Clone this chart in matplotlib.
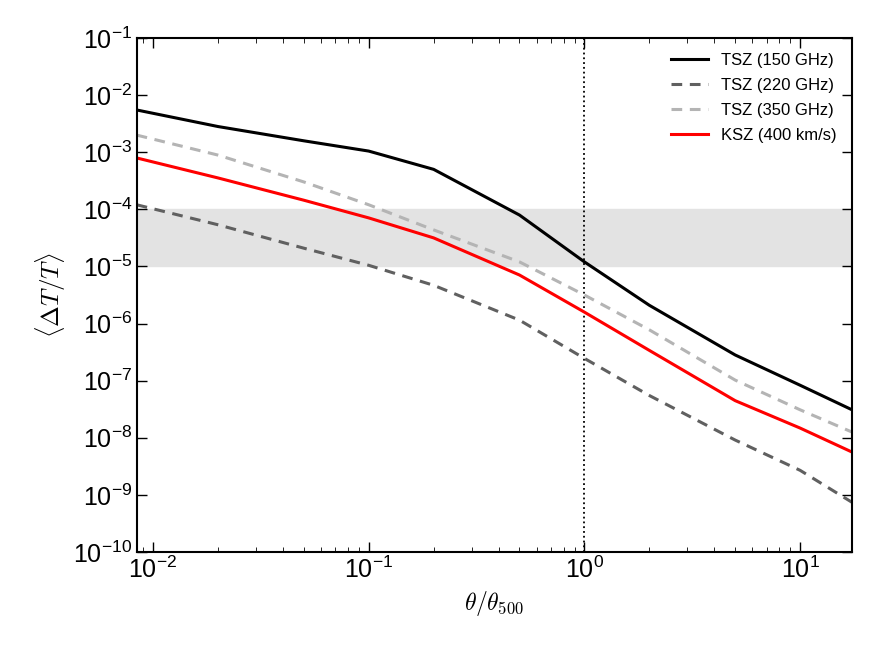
import numpy as np
import matplotlib
matplotlib.use("Agg")
import matplotlib.pyplot as plt
from matplotlib.ticker import LogLocator, NullLocator

plt.rcParams['font.family'] = ['Liberation Sans', 'DejaVu Sans']
plt.rcParams['mathtext.fontset'] = 'cm'

theta = [0.0084, 0.02, 0.05, 0.1, 0.2, 0.5, 1.0, 2.0, 5.0, 10.0, 17.4]
log_tsz150 = [-2.26, -2.55, -2.80, -2.98, -3.30, -4.10, -4.92, -5.68, -6.55, -7.08, -7.51]
log_tsz220 = [-3.92, -4.27, -4.68, -4.98, -5.33, -5.94, -6.61, -7.26, -8.04, -8.57, -9.13]
log_tsz350 = [-2.70, -3.05, -3.52, -3.92, -4.36, -4.92, -5.50, -6.11, -6.99, -7.51, -7.90]
log_ksz400 = [-3.10, -3.45, -3.84, -4.15, -4.50, -5.15, -5.80, -6.47, -7.35, -7.83, -8.25]

def pts(lx, ly):
    return np.array(lx), 10**np.array(ly)

fig = plt.figure(figsize=(8.72, 6.54), dpi=100)
ax = fig.add_axes([137/872, 1 - 552/654, (852-137)/872, (552-38)/654])
ax.set_xscale("log"); ax.set_yscale("log")
ax.axhspan(1e-5, 1e-4, color="#e3e3e3", zorder=0)
ax.axvline(1.0, color="black", ls=":", lw=1.3)

ax.plot(*pts(theta, log_tsz150), color="black", lw=2.2, label="TSZ (150 GHz)")
ax.plot(*pts(theta, log_tsz220), color="#606060", lw=2.2, ls=(0, (3.5, 2.5)), label="TSZ (220 GHz)")
ax.plot(*pts(theta, log_tsz350), color="#b4b4b4", lw=2.2, ls=(0, (3.5, 2.5)), label="TSZ (350 GHz)")
ax.plot(*pts(theta, log_ksz400), color="red", lw=2.2, label="KSZ (400 km/s)")

ax.set_xlim(0.00843, 17.4)
ax.set_ylim(1e-10, 1e-1)
ax.yaxis.set_major_locator(LogLocator(base=10, numticks=20))
ax.yaxis.set_minor_locator(NullLocator())
ax.tick_params(which="both", direction="in", top=True, right=True, labelsize=18)
ax.tick_params(which="major", length=7, width=1)
ax.tick_params(which="minor", length=3.5)
for s in ax.spines.values():
    s.set_linewidth(1.5)
ax.set_xlabel(r"$\theta/\theta_{500}$", fontsize=17)
ax.set_ylabel(r"$\langle\Delta T/T\rangle$", fontsize=18)
ax.legend(loc="upper right", frameon=False, fontsize=12, handlelength=2.2, labelspacing=0.6)
fig.savefig("out.png", dpi=100)
